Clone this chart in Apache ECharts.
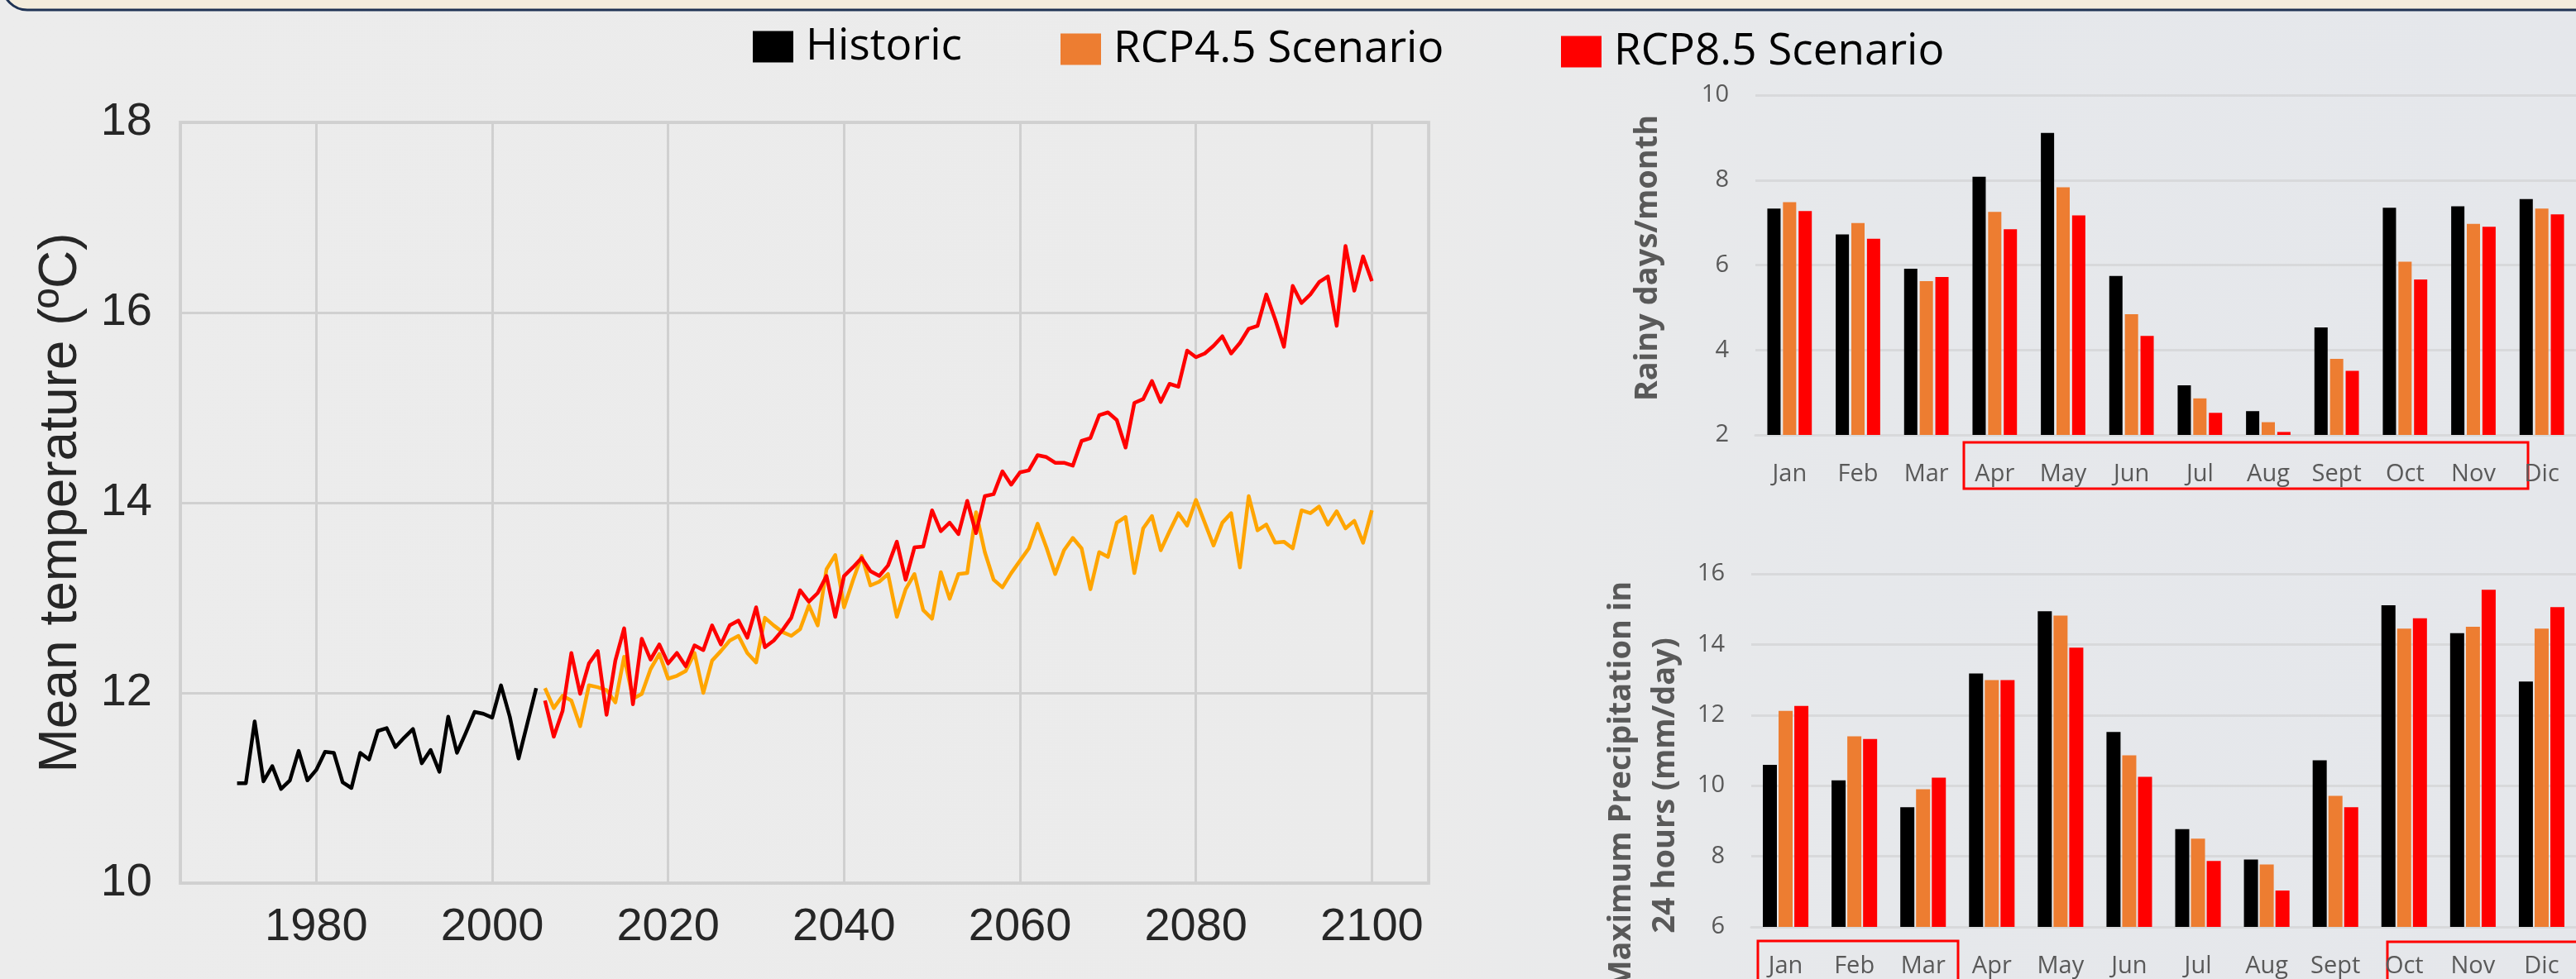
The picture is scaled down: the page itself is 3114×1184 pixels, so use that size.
<!DOCTYPE html>
<html>
<head>
<meta charset="utf-8">
<title>Mean temperature and rainfall scenarios</title>
<script src="https://cdn.jsdelivr.net/npm/echarts@6.0.0/dist/echarts.min.js"></script>
<style>
  html, body { margin: 0; padding: 0; }
  body { background: linear-gradient(to right, #ececec 0%, #ebebeb 55%, #e6e8eb 72%, #e5e7eb 100%); }
  #chart { width: 3114px; height: 1184px; }
</style>
</head>
<body>
<div id="chart"></div>
<script>
// annual mean temperature (ºC)
const historicStart = 1971;
const historicTemp = [11.05, 11.05, 11.70, 11.07, 11.23, 10.99, 11.08, 11.39, 11.08, 11.19,
  11.38, 11.37, 11.06, 11.00, 11.37, 11.30, 11.60, 11.63, 11.43, 11.53,
  11.62, 11.26, 11.40, 11.17, 11.75, 11.37, 11.58, 11.80, 11.78, 11.74,
  12.08, 11.75, 11.31, 11.68, 12.05];

const scenarioStart = 2006;
const rcp45Temp = [12.05, 11.84, 11.97, 11.92, 11.65, 12.08, 12.06, 12.03, 11.90, 12.38,
  11.94, 11.99, 12.25, 12.41, 12.15, 12.18, 12.23, 12.42, 12.00, 12.34,
  12.44, 12.55, 12.60, 12.42, 12.32, 12.79, 12.71, 12.64, 12.60, 12.67,
  12.92, 12.71, 13.30, 13.45, 12.90, 13.18, 13.44, 13.13, 13.17, 13.25,
  12.80, 13.09, 13.25, 12.87, 12.78, 13.27, 12.99, 13.25, 13.26, 13.90,
  13.48, 13.19, 13.11, 13.26, 13.39, 13.52, 13.78, 13.53, 13.25, 13.50,
  13.63, 13.52, 13.09, 13.48, 13.43, 13.79, 13.85, 13.26, 13.73, 13.86,
  13.50, 13.70, 13.89, 13.76, 14.03, 13.79, 13.55, 13.79, 13.89, 13.32,
  14.07, 13.71, 13.77, 13.58, 13.59, 13.52, 13.92, 13.89, 13.96, 13.77,
  13.91, 13.73, 13.81, 13.58, 13.92];
const rcp85Temp = [11.92, 11.54, 11.81, 12.42, 11.99, 12.31, 12.44, 11.77, 12.34, 12.68,
  11.88, 12.57, 12.35, 12.51, 12.31, 12.42, 12.28, 12.50, 12.45, 12.71,
  12.51, 12.71, 12.76, 12.58, 12.90, 12.48, 12.55, 12.66, 12.79, 13.08,
  12.96, 13.05, 13.23, 12.80, 13.23, 13.32, 13.42, 13.28, 13.23, 13.34,
  13.59, 13.19, 13.53, 13.54, 13.92, 13.70, 13.79, 13.67, 14.02, 13.68,
  14.07, 14.09, 14.33, 14.19, 14.32, 14.34, 14.50, 14.48, 14.42, 14.42,
  14.39, 14.65, 14.68, 14.92, 14.95, 14.87, 14.58, 15.05, 15.09, 15.28,
  15.06, 15.25, 15.22, 15.60, 15.53, 15.57, 15.65, 15.75, 15.57, 15.68,
  15.83, 15.86, 16.19, 15.93, 15.64, 16.28, 16.10, 16.19, 16.32, 16.38,
  15.86, 16.70, 16.23, 16.59, 16.33];

// monthly bars
const months = ['Jan', 'Feb', 'Mar', 'Apr', 'May', 'Jun', 'Jul', 'Aug', 'Sept', 'Oct', 'Nov', 'Dic'];
const rainyHistoric = [7.33, 6.72, 5.91, 8.08, 9.11, 5.74, 3.17, 2.56, 4.53, 7.35, 7.38, 7.55];
const rainyRcp45 = [7.48, 6.99, 5.62, 7.25, 7.83, 4.84, 2.86, 2.30, 3.79, 6.08, 6.97, 7.33];
const rainyRcp85 = [7.27, 6.62, 5.72, 6.84, 7.17, 4.33, 2.52, 2.07, 3.51, 5.66, 6.90, 7.19];
const maxPrecHistoric = [10.59, 10.15, 9.39, 13.18, 14.94, 11.52, 8.77, 7.91, 10.72, 15.11, 14.32, 12.95];
const maxPrecRcp45 = [12.12, 11.40, 9.90, 12.99, 14.82, 10.86, 8.50, 7.77, 9.71, 14.45, 14.50, 14.45];
const maxPrecRcp85 = [12.26, 11.32, 10.23, 12.99, 13.91, 10.25, 7.87, 7.03, 9.39, 14.74, 15.55, 15.06];

const names = ['Historic', 'RCP4.5 Scenario', 'RCP8.5 Scenario'];
const barColors = ['#000000', '#ed7d31', '#ff0000'];
const lineColors = ['#000000', '#ffa500', '#ff0000'];

const toPairs = (start, vals) => vals.map((v, i) => [start + i, v]);

const chart = echarts.init(document.getElementById('chart'), null, { renderer: 'canvas' });

const legendBase = {
  orient: 'horizontal',
  padding: 0,
  itemWidth: 49,
  itemHeight: 38,
  selectedMode: false,
  textStyle: { fontFamily: 'Open Sans', fontSize: 53, color: '#000', padding: [0, 0, 0, 10] }
};

const barLabel = { fontFamily: 'Open Sans', fontSize: 29, color: '#595959' };
const barGridLine = { color: '#d8d9db', width: 3 };

function barSeries(vals, idx, axis, width, gap) {
  return {
    name: names[idx], type: 'bar', xAxisIndex: axis, yAxisIndex: axis,
    data: vals, barWidth: width, barGap: gap,
    itemStyle: { color: barColors[idx] }, emphasis: { disabled: true }
  };
}

function lineSeries(start, vals, idx) {
  return {
    name: names[idx], type: 'line', xAxisIndex: 0, yAxisIndex: 0,
    data: toPairs(start, vals), symbol: 'none', z: 3 + idx,
    lineStyle: { color: lineColors[idx], width: 4.5, join: 'round' },
    itemStyle: { color: lineColors[idx] }, emphasis: { disabled: true }
  };
}

const option = {
  backgroundColor: 'transparent',
  animation: false,
  legend: [
    Object.assign({ left: 910, top: 30, data: [{ name: names[0], icon: 'rect', itemStyle: { color: barColors[0] } }] }, legendBase),
    Object.assign({ left: 1282, top: 33, data: [{ name: names[1], icon: 'rect', itemStyle: { color: barColors[1] } }] }, legendBase),
    Object.assign({ left: 1887, top: 36, data: [{ name: names[2], icon: 'rect', itemStyle: { color: barColors[2] } }] }, legendBase)
  ],
  grid: [
    { left: 218, top: 148, width: 1509, height: 920, show: true, borderColor: '#d3d3d3', borderWidth: 4, backgroundColor: 'transparent' },
    { left: 2122, top: 115, width: 1000, height: 411 },
    { left: 2117, top: 694, width: 1013, height: 427 }
  ],
  xAxis: [
    {
      type: 'value', gridIndex: 0, min: 1964.55, max: 2106.45, splitNumber: 7, minInterval: 20, maxInterval: 20,
      axisLine: { show: false }, axisTick: { show: false },
      axisLabel: { fontFamily: 'Liberation Sans', fontSize: 56, color: '#262626', margin: 26,
        showMinLabel: false, showMaxLabel: false, formatter: v => String(Math.round(v)) },
      splitLine: { lineStyle: { color: '#d0d0d0', width: 3 } }
    },
    {
      type: 'category', gridIndex: 1, data: months,
      axisLine: { lineStyle: barGridLine }, axisTick: { show: false },
      axisLabel: Object.assign({ margin: 33, interval: 0 }, barLabel)
    },
    {
      type: 'category', gridIndex: 2, data: months,
      axisLine: { lineStyle: barGridLine }, axisTick: { show: false },
      axisLabel: Object.assign({ margin: 33, interval: 0 }, barLabel)
    }
  ],
  yAxis: [
    {
      type: 'value', gridIndex: 0, min: 10, max: 18, interval: 2,
      name: 'Mean temperature (ºC)', nameLocation: 'middle', nameGap: 112, nameRotate: 90,
      nameTextStyle: { fontFamily: 'Liberation Sans', fontSize: 64, color: '#262626' },
      axisLine: { show: false }, axisTick: { show: false },
      axisLabel: { fontFamily: 'Liberation Sans', fontSize: 56, color: '#262626', margin: 34 },
      splitLine: { lineStyle: { color: '#d0d0d0', width: 3 } }
    },
    {
      type: 'value', gridIndex: 1, min: 2, max: 10, interval: 2,
      axisLine: { show: false }, axisTick: { show: false },
      axisLabel: Object.assign({ margin: 32 }, barLabel),
      splitLine: { lineStyle: barGridLine }
    },
    {
      type: 'value', gridIndex: 2, min: 6, max: 16, interval: 2,
      axisLine: { show: false }, axisTick: { show: false },
      axisLabel: Object.assign({ margin: 32 }, barLabel),
      splitLine: { lineStyle: barGridLine }
    }
  ],
  graphic: [
    // header panel edge
    { type: 'rect', z: 10, shape: { x: 3, y: -60, width: 3200, height: 72, r: 30 },
      style: { fill: '#f3ecdc', stroke: '#1f3354', lineWidth: 3 } },
    { type: 'text', x: 1992, y: 312, rotation: Math.PI / 2,
      style: { text: 'Rainy days/month', font: 'bold 38px "Open Sans"', fill: '#595959',
        textAlign: 'center', textVerticalAlign: 'middle' } },
    { type: 'text', x: 1987, y: 950, rotation: Math.PI / 2,
      style: { text: 'Maximum Precipitation in\n24 hours (mm/day)', font: 'bold 38px "Open Sans"', fill: '#595959',
        lineHeight: 53, textAlign: 'center', textVerticalAlign: 'middle' } },
    // highlighted month ranges
    { type: 'rect', shape: { x: 2374, y: 535, width: 682, height: 56 },
      style: { fill: null, stroke: '#ff0000', lineWidth: 3 } },
    { type: 'rect', shape: { x: 2125, y: 1138, width: 242, height: 70 },
      style: { fill: null, stroke: '#ff0000', lineWidth: 3 } },
    { type: 'rect', shape: { x: 2886, y: 1139, width: 300, height: 70 },
      style: { fill: null, stroke: '#ff0000', lineWidth: 3 } }
  ],
  series: [
    lineSeries(historicStart, historicTemp, 0),
    lineSeries(scenarioStart, rcp45Temp, 1),
    lineSeries(scenarioStart, rcp85Temp, 2),
    barSeries(rainyHistoric, 0, 1, 16, '18%'),
    barSeries(rainyRcp45, 1, 1, 16, '18%'),
    barSeries(rainyRcp85, 2, 1, 16, '18%'),
    barSeries(maxPrecHistoric, 0, 2, 17, '12%'),
    barSeries(maxPrecRcp45, 1, 2, 17, '12%'),
    barSeries(maxPrecRcp85, 2, 2, 17, '12%')
  ]
};

chart.setOption(option);
</script>
</body>
</html>
